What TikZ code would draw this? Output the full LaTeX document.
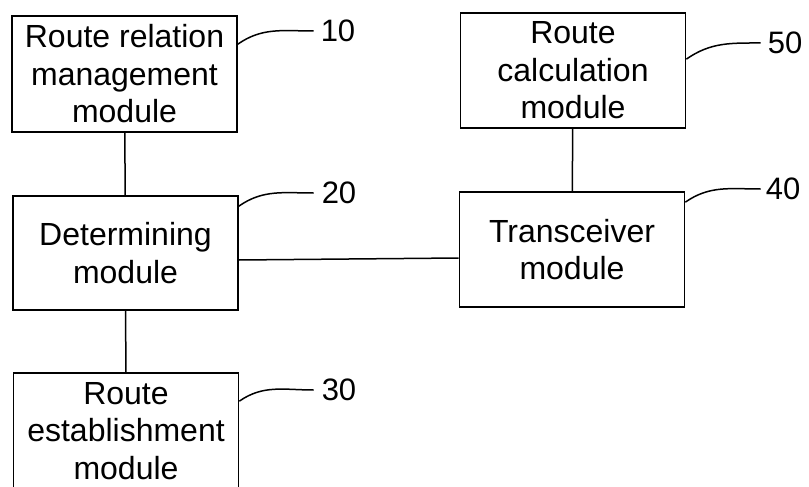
\documentclass[tikz,border=0pt]{standalone}
\usepackage{fontspec}
\setmainfont{Liberation Sans}
\usetikzlibrary{positioning}

\tikzset{
    modbox/.style={draw, line width=1.7pt, minimum width=225pt, align=center,
        font=\fontsize{32}{37.5}\selectfont},
    reflabel/.style={inner sep=0pt, font=\fontsize{31}{34}\selectfont},
    leader/.style={line width=1.5pt}
}

\begin{document}
\begin{tikzpicture}[x=1pt, y=-1pt]
        \useasboundingbox (0,0) rectangle (809,487);

        \node[modbox, minimum height=116pt](mgmt) at (124.5,74) {Route relation\\management\\module};
        \node[modbox, minimum height=114pt](det) at (125.5,253) {Determining\\module};
        \node[modbox, minimum height=116pt](est) at (126,431) {Route\\establishment\\module};
        \node[modbox, minimum height=115pt](calc) at (573,70.5) {Route\\calculation\\module};
        \node[modbox, minimum height=115pt](trx) at (572,249.5) {Transceiver\\module};

        \node[reflabel](l10) at (338,31) {10};
        \node[reflabel](l20) at (339,193) {20};
        \node[reflabel](l30) at (339,390) {30};
        \node[reflabel](l50) at (785,43) {50};
        \node[reflabel](l40) at (783,189) {40};

        \draw[line width=1.5pt](mgmt) -- (det);
        \draw[line width=1.5pt](det) -- (est);
        \draw[line width=1.5pt](calc) -- (trx);
        \draw[line width=1.5pt]([yshift=-7pt]det.east) -- ([yshift=-8.5pt]trx.west);

        \draw[leader]([yshift=-29pt]mgmt.north east) to[out=35, in=180] ([xshift=-7pt]l10.west);
        \draw[leader]([yshift=-11pt]det.north east) to[out=35, in=180] ([xshift=-8pt]l20.west);
        \draw[leader]([yshift=-29pt]est.north east) to[out=35, in=180] ([xshift=-8pt]l30.west);
        \draw[leader]([yshift=-47pt]calc.north east) to[out=35, in=180] ([xshift=-7pt]l50.west);
        \draw[leader]([yshift=-11pt]trx.north east) to[out=35, in=180] ([xshift=-5pt]l40.west);
    \end{tikzpicture}
\end{document}
